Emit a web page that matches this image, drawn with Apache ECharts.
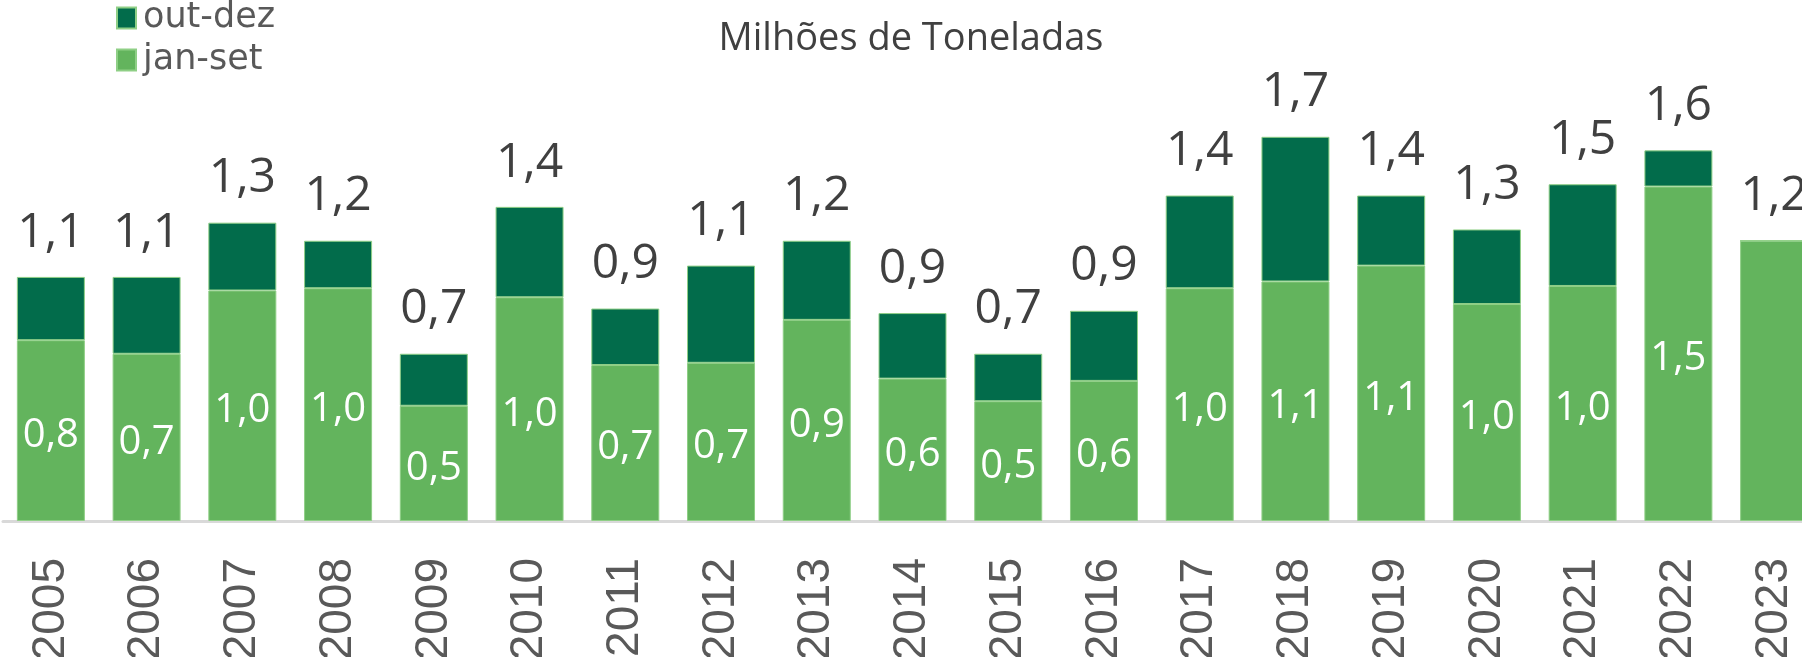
<!DOCTYPE html>
<html>
<head>
<meta charset="utf-8">
<script src="https://cdn.jsdelivr.net/npm/echarts@6/dist/echarts.min.js"></script>
<style>
    html, body {
        margin: 0;
        padding: 0;
        background: #ffffff;
        overflow: hidden;
    }

    .chart-container {
        width: 1822px;
        height: 657px;
    }
</style>
</head>
<body>
<div id="chart" class="chart-container"></div>
<script>
// Values (million tonnes)
const years = ['2005', '2006', '2007', '2008', '2009', '2010', '2011', '2012', '2013', '2014',
    '2015', '2016', '2017', '2018', '2019', '2020', '2021', '2022', '2023'];
const janSet = [0.80, 0.74, 1.02, 1.03, 0.51, 0.99, 0.69, 0.70, 0.89, 0.63,
    0.53, 0.62, 1.03, 1.06, 1.13, 0.96, 1.04, 1.48, 1.24];
const outDez = [0.28, 0.34, 0.30, 0.21, 0.23, 0.40, 0.25, 0.43, 0.35, 0.29,
    0.21, 0.31, 0.41, 0.64, 0.31, 0.33, 0.45, 0.16, 0];
const totals = janSet.map((v, i) => v + outDez[i]);

const fmt = (v) => v.toFixed(1).replace('.', ',');

const darkGreen = '#026c4b';
const lightGreen = '#63b45d';

const chart = echarts.init(document.getElementById('chart'));

const chartOptions = {
    animation: false,
    title: {
        text: 'Milhões de Toneladas',
        left: 'center',
        top: 15,
        textStyle: {
            fontFamily: 'Open Sans',
            fontWeight: 'normal',
            fontSize: 38,
            color: '#404040'
        }
    },
    legend: {
        data: ['out-dez', 'jan-set'],
        orient: 'vertical',
        left: 111,
        top: -6,
        itemWidth: 19,
        itemHeight: 21,
        itemGap: 4,
        icon: 'rect',
        textStyle: {
            fontFamily: 'DejaVu Sans',
            fontSize: 35,
            lineHeight: 38,
            color: '#595959',
            padding: [0, 0, 0, 2]
        }
    },
    grid: {
        left: 3,
        right: 0,
        top: 69,
        bottom: 136,
        outerBoundsMode: 'none'
    },
    xAxis: {
        type: 'category',
        data: years,
        axisLine: {
            lineStyle: { color: '#d9d9d9', width: 3 }
        },
        axisTick: { show: false },
        axisLabel: {
            rotate: 90,
            margin: 37,
            fontFamily: 'Liberation Sans',
            fontSize: 46,
            color: '#595959'
        }
    },
    yAxis: {
        type: 'value',
        min: 0,
        max: 2,
        show: false,
        splitLine: { show: false }
    },
    series: [
        {
            name: 'jan-set',
            type: 'bar',
            stack: 'total',
            barWidth: 68,
            data: janSet.map((v, i) => outDez[i] === 0 ? { value: v, label: { show: false } } : v),
            itemStyle: {
                color: lightGreen,
                borderColor: '#8fcf86',
                borderWidth: 1
            },
            label: {
                show: true,
                position: 'inside',
                offset: [0, 5],
                formatter: (p) => fmt(p.value),
                fontFamily: 'Open Sans',
                fontSize: 40,
                color: '#ffffff'
            }
        },
        {
            name: 'out-dez',
            type: 'bar',
            stack: 'total',
            barWidth: 68,
            data: outDez,
            itemStyle: {
                color: darkGreen,
                borderColor: '#8fcf86',
                borderWidth: 1
            },
            label: {
                show: true,
                position: 'top',
                distance: 20,
                formatter: (p) => fmt(totals[p.dataIndex]),
                fontFamily: 'Open Sans',
                fontSize: 48,
                color: '#404040'
            }
        }
    ]
};

chart.setOption(chartOptions);
</script>
</body>
</html>
